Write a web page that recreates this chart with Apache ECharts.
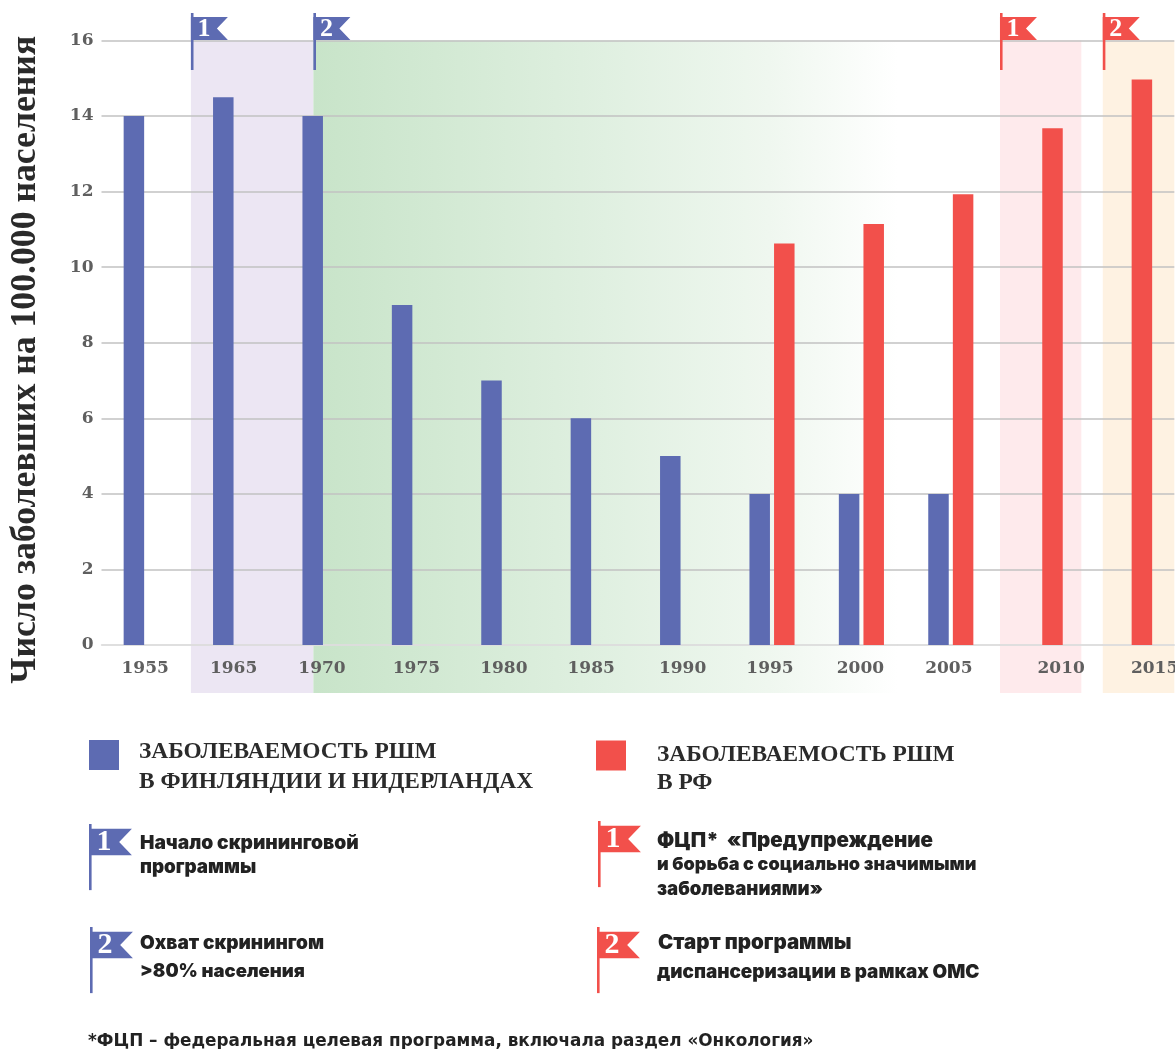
<!DOCTYPE html>
<html><head><meta charset="utf-8">
<style>html,body{margin:0;padding:0;background:#fff;overflow:hidden}#c{width:1175px;height:1049px}</style>
<script src="https://cdn.jsdelivr.net/npm/echarts@6/dist/echarts.min.js"></script>
</head><body><div id="c"></div>
<script>
const years = ['1955','1965','1970','1975','1980','1985','1990','1995','2000','2005','2010','2015'];
const finlandNetherlands = [14,14.5,14,9,7,6,5,4,4,4,null,null];
const russia = [null,null,null,null,null,null,null,10.63,11.14,11.93,13.68,14.97];
const yearLabelNudge = [-1,-2,-3,2,0,-2,0,-2,-1,-2,21,25];
const nameFI = 'ЗАБОЛЕВАЕМОСТЬ РШМ\nВ ФИНЛЯНДИИ И НИДЕРЛАНДАХ';
const nameRU = 'ЗАБОЛЕВАЕМОСТЬ РШМ\nВ РФ';
const yTitle = 'Число заболевших на 100.000 населения';
const bandSpans = [[1,2.37],[2.37,8.9],[10.05,10.96],[11.2,12]];
const flagMarks = [[1,'1',0],[2.37,'2',0],[10.05,'1',1],[11.2,'2',1]];

const BLUE='#5d6bb2', RED='#f2504b';
const SERIF='"Liberation Serif",serif', TICK='"DejaVu Serif",serif', HEAVY='Inter,"Noto Sans",sans-serif';
const bandFills=[
  '#ece6f3',
  {type:'linear',x:0,y:0,x2:1,y2:0,colorStops:[{offset:0,color:'#c8e4c9'},{offset:.5,color:'#e0f0e1'},{offset:.78,color:'#eff7ef'},{offset:1,color:'#ffffff'}]},
  '#feeaec','#fef2e2'];

function flag(x,y,color,num,s){
  s=s||1;const w=37*s,h=23*s,o=4*s;
  return [
    {type:'rect',shape:{x:x,y:y,width:2.6,height:57*s},style:{fill:color}},
    {type:'polygon',shape:{points:[[x,y+o],[x+w,y+o],[x+w-11*s,y+o+h/2],[x+w,y+o+h],[x,y+o+h]]},style:{fill:color}},
    {type:'text',style:{text:num,x:x+13*s,y:y+o+h/2+.5,align:'center',verticalAlign:'middle',fill:'#fff',font:'bold '+Math.round(26*s)+'px '+SERIF}}
  ];
}
function note(x,y,text,size,family){
  return {type:'text',x:x,y:y,silent:true,style:{text:text,fill:'#222',font:(family?'bold':'900')+' '+size+'px '+(family||HEAVY),verticalAlign:'middle'}};
}
const legendFlag=(x,y,c,n)=>({type:'group',silent:true,children:flag(x,y,c,n,1.16)});
const legendLines=n=>'{b| }\n'+n.split('\n').map(l=>'{t|'+l+'}').join('\n');
const legendText=(blank,line,left)=>({color:'#2b2b2b',fontFamily:SERIF,fontWeight:'bold',fontSize:23.4,padding:[0,0,0,left],
  rich:{b:{lineHeight:blank,fontSize:10},t:{lineHeight:line,color:'#2b2b2b',fontFamily:SERIF,fontWeight:'bold',fontSize:23.4}}});
const tickRich={};
yearLabelNudge.forEach((n,i)=>{tickRich['n'+i]={color:'#5f5f5f',fontFamily:TICK,fontWeight:'bold',fontSize:17,
  padding:n>0?[0,0,0,2*n]:[0,-2*n,0,0]};});

const chart=echarts.init(document.getElementById('c'),null,{renderer:'canvas'});
chart.setOption({
  animation:false,
  grid:{left:101.5,top:40.5,width:1072.8,height:604.5,containLabel:false,outerBoundsMode:'none'},
  legend:[
    {data:[nameFI],left:89,top:720.5,itemWidth:30,itemHeight:30,icon:'rect',selectedMode:false,padding:0,
     formatter:legendLines,textStyle:legendText(24,29.5,15)},
    {data:[nameRU],left:596,top:722.5,itemWidth:30,itemHeight:30,icon:'rect',selectedMode:false,padding:0,
     formatter:legendLines,textStyle:legendText(27,28,26)}
  ],
  xAxis:[
    {type:'category',data:years,
     axisTick:{show:false},axisLine:{lineStyle:{color:'#dddddd',width:1.5}},
     axisLabel:{interval:0,margin:15,color:'#5f5f5f',fontFamily:TICK,fontWeight:'bold',fontSize:17,
       formatter:(v,i)=>'{n'+i+'|'+v+'}',rich:tickRich}},
    {type:'value',min:0,max:12,show:false}
  ],
  yAxis:{type:'value',min:0,max:16,interval:2,name:yTitle,nameLocation:'middle',nameGap:58,
    nameTextStyle:{color:'#2a2a2a',fontFamily:SERIF,fontWeight:'bold',fontSize:35.7,padding:[0,34,0,0]},
    axisLine:{show:false},axisTick:{show:false},
    axisLabel:{margin:8,color:'#5f5f5f',fontFamily:TICK,fontWeight:'bold',fontSize:17,padding:[0,0,7,0]},
    splitLine:{lineStyle:{color:['#dddddd','#c2c2c2','#c2c2c2','#c2c2c2','#c2c2c2','#c2c2c2','#c2c2c2','#c2c2c2','#c2c2c2'],width:1.5}}},
  series:[
    {type:'custom',name:'bands',xAxisIndex:1,z:-1,silent:true,clip:false,
     data:bandSpans,encode:{x:[0,1]},
     renderItem:(p,api)=>{
       const a=api.coord([api.value(0),16]),b=api.coord([api.value(1),-1.27]);
       return {type:'rect',shape:{x:a[0],y:a[1],width:b[0]-a[0],height:b[1]-a[1]},style:{fill:bandFills[p.dataIndex]}};
     }},
    {type:'bar',name:nameFI,data:finlandNetherlands,barWidth:20.5,barGap:'20%',itemStyle:{color:BLUE},silent:true},
    {type:'bar',name:nameRU,data:russia,barWidth:20.5,barGap:'20%',itemStyle:{color:RED},silent:true},
    {type:'custom',name:'flags',xAxisIndex:1,z:5,silent:true,clip:false,
     data:flagMarks.map(f=>[f[0],16]),encode:{x:0,y:1},
     renderItem:(p,api)=>{
       const c=api.coord([api.value(0),16]),f=flagMarks[p.dataIndex];
       return {type:'group',children:flag(c[0],c[1]-27.5,f[2]?RED:BLUE,f[1])};
     }}
  ],
  graphic:[
    legendFlag(89,824,BLUE,'1'),legendFlag(90,927,BLUE,'2'),legendFlag(598,821,RED,'1'),legendFlag(597,927,RED,'2'),
    note(140,843,'Начало скрининговой',19.2),note(140,867,'программы',18.8),
    note(140,943,'Охват скринингом',19),note(140,971,'>80% населения',18.5),
    note(657,841,'ФЦП*  «Предупреждение',20.5),note(657,865,'и борьба с социально значимыми',18),note(657,889,'заболеваниями»',18.6),
    note(658,943,'Старт программы',20.5),note(657,972,'диспансеризации в рамках ОМС',18.9),
    note(88,1042,'*ФЦП – федеральная целевая программа, включала раздел «Онкология»',16.85,'"DejaVu Sans",sans-serif')
  ]
});
</script></body></html>
